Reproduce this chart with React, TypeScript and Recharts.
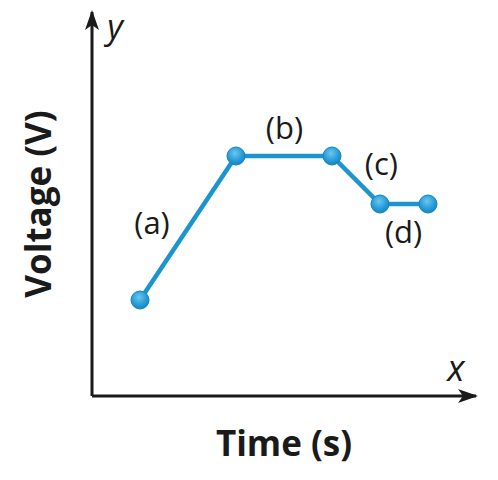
import { LineChart, Line, XAxis, YAxis, ReferenceDot, Label } from "recharts";

// time (s) and voltage (V) of each point on the path
const times = [1, 3, 5, 6, 7];
const voltages = [2, 5, 5, 4, 4];

// segment labels and where they sit (in data units)
const segNames = ["(a)", "(b)", "(c)", "(d)"];
const segX = [1.25, 4.01, 6.03, 6.49];
const segY = [3.6, 5.58, 4.83, 3.41];

const data = times.map((t, i) => ({ t, v: voltages[i] }));
const segs = segNames.map((name, i) => ({ name, x: segX[i], y: segY[i] }));

const FONT = "'Open Sans', 'Noto Sans', sans-serif";
const BLUE = "#1b95d1";
const INK = "#1a1a1a";

const Dot = (props: any) => {
    const { cx, cy } = props;
    if (cx == null || cy == null) return null;
    return <circle cx={cx} cy={cy} r={9} fill="url(#dotGrad)" stroke="#1585c0" strokeWidth={1} />;
};

export default function App() {
    return (
        <div style={{ position: "absolute", left: 0, top: 0, width: 498, height: 480, background: "#fff" }}>
            <LineChart width={498} height={480} data={data} margin={{ top: 12, right: 22, left: 91, bottom: 83 }}>
                <defs>
                    <marker id="arrowHead" markerWidth={20} markerHeight={14} refX={18} refY={7}
                        orient="auto-start-reverse" markerUnits="userSpaceOnUse">
                        <path d="M0,0 L20,7 L0,14 L5,7 Z" fill={INK} />
                    </marker>
                    <radialGradient id="dotGrad" cx="45%" cy="35%" r="65%">
                        <stop offset="0%" stopColor="#6cc6ef" />
                        <stop offset="60%" stopColor="#2a9fd8" />
                        <stop offset="100%" stopColor="#1683be" />
                    </radialGradient>
                </defs>
                <XAxis
                    dataKey="t"
                    type="number"
                    domain={[0, 8]}
                    height={1}
                    tick={false}
                    tickLine={false}
                    axisLine={{ stroke: INK, strokeWidth: 3, markerEnd: "url(#arrowHead)" } as any}
                >
                    <Label value="Time (s)" position="bottom" offset={34}
                        style={{ fontFamily: FONT, fontSize: 35, fontWeight: 700, fill: INK }} />
                </XAxis>
                <YAxis
                    type="number"
                    domain={[0, 8]}
                    width={1}
                    tick={false}
                    tickLine={false}
                    axisLine={{ stroke: INK, strokeWidth: 3, markerStart: "url(#arrowHead)" } as any}
                >
                    <Label value="Voltage (V)" angle={-90} position="insideLeft" offset={-52}
                        style={{ fontFamily: FONT, fontSize: 35, fontWeight: 700, fill: INK, textAnchor: "middle" }} />
                </YAxis>
                <ReferenceDot x={0.48} y={7.68} r={0} fill="none" stroke="none" ifOverflow="visible"
                    label={{ value: "y", position: "center", style: { fontFamily: FONT, fontSize: 34, fontStyle: "italic", fill: INK } }} />
                <ReferenceDot x={7.58} y={0.58} r={0} fill="none" stroke="none" ifOverflow="visible"
                    label={{ value: "x", position: "center", style: { fontFamily: FONT, fontSize: 36, fontStyle: "italic", fill: INK } }} />
                {segs.map((s) => (
                    <ReferenceDot key={s.name} x={s.x} y={s.y} r={0} fill="none" stroke="none" ifOverflow="visible"
                        label={{ value: s.name, position: "center", style: { fontFamily: FONT, fontSize: 31, fill: INK } }} />
                ))}
                <Line
                    dataKey="v"
                    type="linear"
                    stroke={BLUE}
                    strokeWidth={4.5}
                    dot={<Dot />}
                    activeDot={false}
                    isAnimationActive={false}
                />
            </LineChart>
        </div>
    );
}
